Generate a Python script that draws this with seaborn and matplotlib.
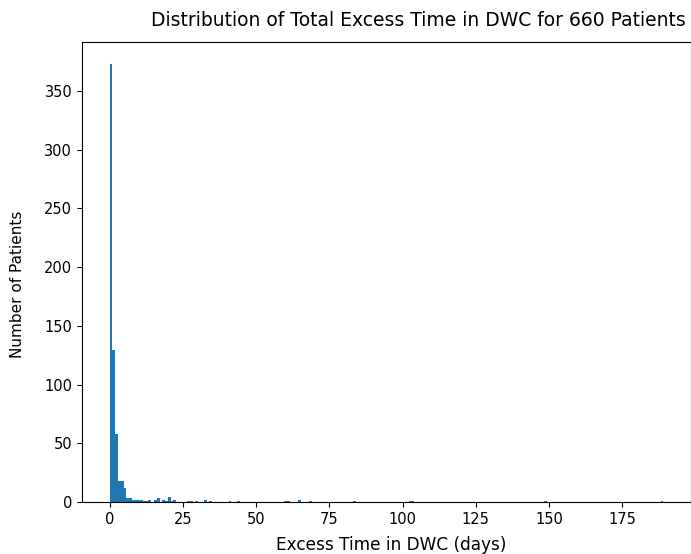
import numpy as np
import pandas as pd
import matplotlib
matplotlib.use("Agg")
import matplotlib.pyplot as plt
import seaborn as sns

# Bin centres (days) and number of patients
excess_days = [0.47, 1.42, 2.36, 3.31, 4.25, 5.20, 6.14, 7.09, 8.03, 8.98,
               9.92, 10.87, 11.81, 12.76, 13.70, 15.59, 16.54, 18.43, 19.37,
               20.32, 21.26, 22.21, 26.93, 27.88, 29.77, 32.60, 34.49, 41.11,
               43.94, 60.01, 60.95, 64.73, 68.51, 83.63, 102.53, 103.48,
               148.84, 188.53]
patient_counts = [373, 129, 58, 18, 18, 12, 3, 3, 2, 2,
                  2, 2, 1, 1, 2, 2, 3, 2, 1,
                  4, 1, 2, 1, 1, 1, 2, 1, 1,
                  1, 1, 1, 2, 1, 1, 1, 1,
                  1, 1]

n_bins = 200
day_range = (0, 189)

df = pd.DataFrame({"days": excess_days, "count": patient_counts})

W, H = 691, 554
fig = plt.figure(figsize=(W / 100, H / 100), dpi=100)
ax = fig.add_axes([82 / W, (H - 502) / H, (691 - 82) / W, (502 - 42) / H])

sns.histplot(data=df, x="days", weights="count", bins=n_bins, binrange=day_range,
             color="#1f77b4", alpha=1, linewidth=0, edgecolor="none", ax=ax)

ax.set_xlabel("Excess Time in DWC (days)", fontsize=12.2)
ax.set_ylabel("Number of Patients", fontsize=11)
ax.xaxis.set_label_coords(0.508, -0.074)
ax.yaxis.set_label_coords(-0.094, 0.474)
ax.tick_params(labelsize=10.5)
fig.text(418.5 / W, 1 - 20 / H, "Distribution of Total Excess Time in DWC for 660 Patients",
         ha="center", va="center", fontsize=13.5)

fig.savefig("out.png", dpi=100)
